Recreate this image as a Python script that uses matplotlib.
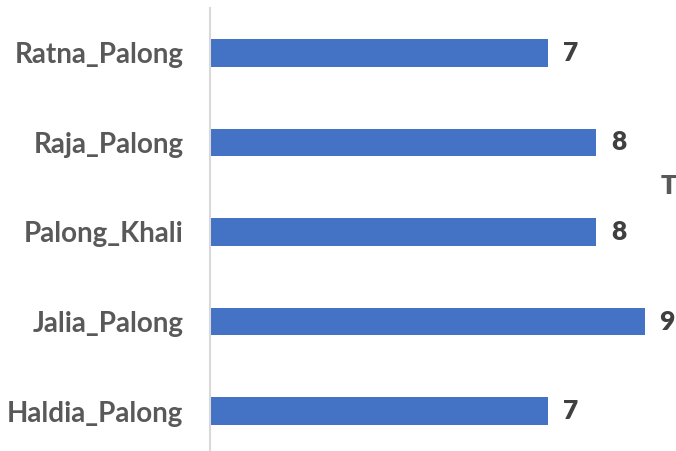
import matplotlib
matplotlib.use("Agg")
import matplotlib.pyplot as plt

categories = ["Haldia_Palong", "Jalia_Palong", "Palong_Khali", "Raja_Palong", "Ratna_Palong"]
values = [7, 9, 8, 8, 7]

plt.rcParams['font.family'] = ['Lato', 'DejaVu Sans']

W, H = 676, 451
fig = plt.figure(figsize=(W/100, H/100), dpi=100)
left = 210 / W
top = 8 / H
bottom = -5 / H
ax = fig.add_axes([left, bottom, (692.8 - 210) / W, 1 - top - bottom])

ypos = list(range(len(categories)))
ax.barh(ypos, values, height=0.31, color="#4472C4")
ax.set_xlim(0, 10)
ax.set_ylim(-0.5, len(categories) - 0.5)
ax.set_yticks(ypos)
ax.set_yticklabels(categories, fontsize=20, fontweight='bold', color="#595959")
ax.tick_params(axis='y', length=0, pad=19)
ax.set_xticks([])
for s in ["top", "right", "bottom"]:
    ax.spines[s].set_visible(False)
ax.spines["left"].set_color("#d9d9d9")
ax.spines["left"].set_linewidth(1.5)

for y, v in zip(ypos, values):
    ax.annotate(str(v), (v, y), xytext=(15, 0), textcoords="offset pixels",
                ha="left", va="center", fontsize=19, fontweight='heavy', color="#404040")

fig.text(661 / W, 1 - 186 / H, "T", ha="left", va="center", fontsize=19,
         fontweight='heavy', color="#595959")

fig.savefig("out.png", dpi=100)
